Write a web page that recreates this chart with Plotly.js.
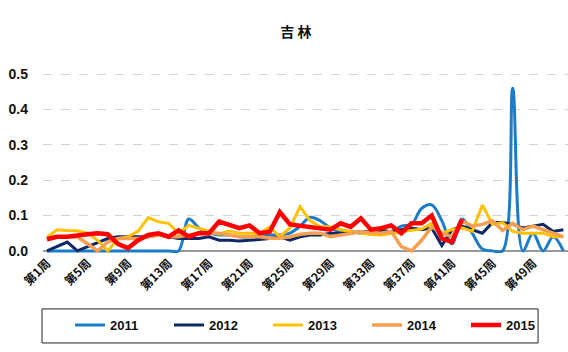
<!DOCTYPE html>
<html>
<head>
<meta charset="utf-8">
<script src="https://cdn.plot.ly/plotly-3.0.1.min.js"></script>
<style>html,body{margin:0;padding:0;background:#fff;}#chart{width:568px;height:352px;}</style>
</head>
<body>
<div id="chart"></div>
<script>
var weeks = ["第1周","第2周","第3周","第4周","第5周","第6周","第7周","第8周","第9周","第10周",
  "第11周","第12周","第13周","第14周","第15周","第16周","第17周","第18周","第19周","第20周",
  "第21周","第22周","第23周","第24周","第25周","第26周","第27周","第28周","第29周","第30周",
  "第31周","第32周","第33周","第34周","第35周","第36周","第37周","第38周","第39周","第40周",
  "第41周","第42周","第43周","第44周","第45周","第46周","第47周","第48周","第49周","第50周",
  "第51周","第52周"];
var tickLabels = ["第1周","第5周","第9周","第13周","第17周","第21周","第25周","第29周","第33周","第37周","第41周","第45周","第49周"];

var s2011 = [0,0,0,0,0,0,0,0,0,0,0,0,0,0,0.09,0.065,0.05,0.045,0.045,0.04,0.04,0.045,0.045,0.045,0.05,0.07,0.095,0.085,0.065,0.055,0.055,0.05,0.055,0.06,0.055,0.07,0.075,0.12,0.13,0.085,0.02,0.09,0.05,0.005,0,0,0.46,0,0.05,0,0.04,0];
var s2012 = [0,0.012,0.025,0,0.012,0.022,0.035,0.04,0.04,0.04,0.04,0.045,0.04,0.035,0.035,0.035,0.04,0.03,0.03,0.028,0.03,0.032,0.035,0.04,0.03,0.04,0.045,0.045,0.05,0.05,0.05,0.055,0.055,0.055,0.055,0.06,0.065,0.06,0.065,0.015,0.06,0.07,0.06,0.05,0.08,0.08,0.075,0.065,0.07,0.075,0.055,0.06];
var s2013 = [0.038,0.06,0.058,0.057,0.05,0.03,0,0.035,0.04,0.056,0.094,0.082,0.078,0.05,0.072,0.064,0.055,0.047,0.056,0.05,0.05,0.05,0.068,0.04,0.065,0.125,0.085,0.068,0.068,0.06,0.055,0.05,0.046,0.045,0.05,0.054,0.058,0.062,0.078,0.05,0.06,0.065,0.055,0.13,0.075,0.08,0.055,0.05,0.05,0.05,0.04,0.04];
var s2014 = [0.035,0.04,0.04,0.04,0.02,0,0.025,0.035,0.035,0.035,0.04,0.045,0.04,0.04,0.045,0.05,0.05,0.05,0.045,0.04,0.04,0.04,0.036,0.036,0.04,0.047,0.05,0.05,0.04,0.045,0.05,0.054,0.052,0.05,0.055,0.012,0,0.03,0.068,0.05,0.04,0.085,0.07,0.075,0.085,0.058,0.078,0.06,0.07,0.06,0.05,0.04];
var s2015 = [0.033,0.04,0.04,0.042,0.047,0.05,0.047,0.02,0.008,0.03,0.045,0.05,0.04,0.058,0.04,0.05,0.05,0.083,0.072,0.064,0.072,0.05,0.054,0.11,0.075,0.072,0.068,0.064,0.06,0.078,0.068,0.092,0.06,0.064,0.072,0.05,0.078,0.078,0.1,0.035,0.025,0.09];

var names = ["2011","2012","2013","2014","2015"];
var series = [s2011, s2012, s2013, s2014, s2015];
var colors = ["#1C7CC8","#0E2A66","#FFC000","#F5A050","#FF0000"];
var widths = [3, 3, 3, 3.5, 4.5];
var shapes = ["spline","linear","linear","linear","linear"];

var traces = series.map(function(s, i){
  return {
    type: "scatter", mode: "lines", name: names[i],
    x: weeks.slice(0, s.length), y: s,
    line: {color: colors[i], width: widths[i], shape: shapes[i], smoothing: 1},
    hoverinfo: "skip"
  };
});

var layout = {
  width: 568, height: 352,
  margin: {l: 43, r: 0, t: 72, b: 99},
  paper_bgcolor: "#fff", plot_bgcolor: "#fff",
  font: {family: "Liberation Sans, Arial, sans-serif", color: "#111"},
  title: {text: "吉 林", x: 0.521, xref: "container", y: 0.909, yref: "container", yanchor: "middle",
          font: {family: "Noto Sans CJK SC", size: 14, weight: "bold", color: "#111"}},
  xaxis: {
    type: "category", categoryorder: "array", categoryarray: weeks,
    range: [-0.395, 51.46], tickmode: "array", tickvals: tickLabels, ticktext: tickLabels,
    tickangle: -45, showgrid: false, zeroline: false, showline: false, ticks: "",
    tickfont: {family: "Noto Sans CJK SC", size: 12, weight: "bold", color: "#111"}
  },
  yaxis: {
    range: [-0.006, 0.506], tickvals: [0, 0.1, 0.2, 0.3, 0.4, 0.5], tickformat: ".1f",
    showgrid: true, gridcolor: "#D4D4D4", griddash: "dash", gridwidth: 1,
    zeroline: true, zerolinecolor: "#9A9A9A", zerolinewidth: 1.5,
    showline: false, ticks: "", ticklabelstandoff: 14,
    tickfont: {family: "Liberation Sans", size: 14, weight: "bold", color: "#111"}
  },
  showlegend: true,
  legend: {
    orientation: "h", x: 0.9943, xanchor: "right", y: -0.398, yanchor: "middle",
    bgcolor: "rgba(0,0,0,0)", borderwidth: 0,
    entrywidth: 54, entrywidthmode: "pixels",
    font: {family: "Liberation Sans", size: 13, weight: "bold", color: "#111"}
  },
  shapes: [{
    type: "rect", xref: "paper", yref: "paper",
    x0: -0.0019, x1: 0.943, y0: -0.497, y1: -0.309,
    line: {color: "#222", width: 1}, fillcolor: "rgba(0,0,0,0)", layer: "above"
  }]
};

Plotly.newPlot("chart", traces, layout, {staticPlot: true, displayModeBar: false});
</script>
</body>
</html>
